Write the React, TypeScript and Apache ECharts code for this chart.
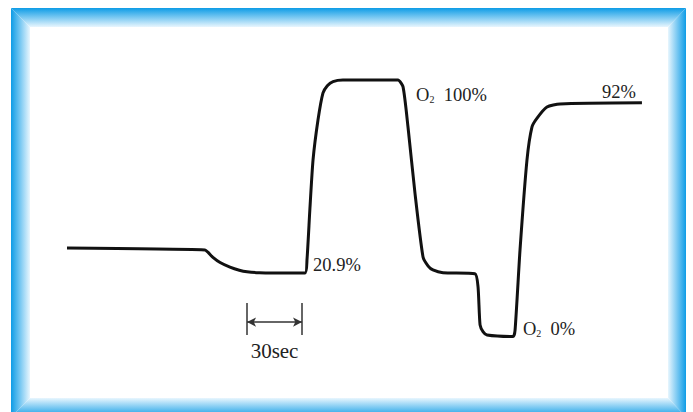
import React, { useEffect, useRef } from "react";
import * as echarts from "echarts";

// Time in seconds, sensor signal in arbitrary units
const times = [0, 75.3, 77.0, 79.6, 83.5, 88.9, 94, 98.2, 105, 112.4, 129.8, 130.9, 132.5, 134.2, 136.9, 139.6, 142, 145.1, 150.5, 180.5, 183.3, 186.0, 189.8, 194.2, 197, 199.6, 205.1, 222.5, 224.2, 225.3, 227, 229.1, 243.3, 244.4, 247.1, 250.9, 253.6, 256.4, 261.8, 268.9, 313.6];
const signal = [34.6, 33.9, 32.9, 31.0, 29.0, 27.2, 26.0, 25.4, 25.0, 24.9, 24.9, 30.0, 50.0, 68.9, 84.4, 94.9, 97.8, 99.4, 100, 100, 97.3, 81.7, 56.0, 31.1, 27.6, 26.1, 25.0, 24.6, 19.5, 4.7, 2.0, 0.8, 0.2, 2.7, 33.9, 68.9, 81.7, 85.2, 89.5, 90.7, 91.1];

const labelTexts = ["20.9%", "O{s|2}  100%", "92%", "O{s|2}  0%"];
const labelCoords: [number, number][] = [[134.2, 28.0], [190.4, 94.2], [291.8, 95.3], [248.7, 3.1]];

const scaleStart = 98.2;
const scaleSpan = 30; // seconds
const scaleLabel = "30sec";

export default function App() {
  const ref = useRef<HTMLDivElement>(null);
  useEffect(() => {
    const chart = echarts.init(ref.current!, null, { renderer: "svg" });
    const blue = "#0e9ce6";
    const light = "#e8f6fe";
    const grad = (x0: number, y0: number, x1: number, y1: number) =>
      new echarts.graphic.LinearGradient(x0, y0, x1, y1, [
        { offset: 0, color: blue },
        { offset: 1, color: light },
      ]);
    const fontFamily = "'Liberation Serif', 'Times New Roman', serif";
    const scaleEnd = scaleStart + scaleSpan;
    chart.setOption({
      animation: false,
      backgroundColor: "#ffffff",
      grid: { left: 67, top: 80, width: 586.67, height: 282.7 },
      xAxis: { type: "value", min: 0, max: 320, show: false },
      yAxis: { type: "value", min: -10, max: 100, show: false },
      graphic: [
        { type: "polygon", shape: { points: [[11, 8], [686, 8], [668, 27], [30, 27]] }, style: { fill: grad(0, 0, 0, 1) } },
        { type: "polygon", shape: { points: [[11, 8], [30, 27], [30, 398], [11, 417]] }, style: { fill: grad(0, 0, 1, 0) } },
        { type: "polygon", shape: { points: [[686, 8], [686, 417], [668, 398], [668, 27]] }, style: { fill: grad(1, 0, 0, 0) } },
        { type: "polygon", shape: { points: [[11, 417], [30, 398], [668, 398], [686, 417]] }, style: { fill: grad(0, 1, 0, 0) } },
      ],
      series: [
        {
          type: "line",
          data: times.map((t, i) => [t, signal[i]]),
          showSymbol: false,
          smooth: 0.2,
          lineStyle: { color: "#111111", width: 3 },
          clip: false,
          markPoint: {
            symbol: "circle",
            symbolSize: 0,
            silent: true,
            data: [
              ...labelTexts.map((txt, i) => ({
                coord: labelCoords[i],
                label: {
                  show: true,
                  formatter: txt,
                  position: [0, 0],
                  align: "left",
                  verticalAlign: "middle",
                  color: "#222",
                  fontFamily,
                  fontSize: 18.5,
                  rich: {
                    s: { fontSize: 10, fontFamily, color: "#222", verticalAlign: "bottom", padding: [6, 0, 0, 0] },
                  },
                },
              })),
              {
                coord: [scaleStart + scaleSpan / 2, -5.4],
                label: {
                  show: true,
                  formatter: scaleLabel,
                  position: [0, 0],
                  align: "center",
                  verticalAlign: "middle",
                  color: "#222",
                  fontFamily,
                  fontSize: 21,
                },
              },
            ],
          },
          markLine: {
            silent: true,
            label: { show: false },
            lineStyle: { color: "#333", width: 1.5, type: "solid" },
            symbol: ["arrow", "arrow"],
            symbolSize: [7, 9],
            data: [
              [{ coord: [scaleStart, 5.8] }, { coord: [scaleEnd, 5.8] }],
              [{ coord: [scaleStart, 0.8], symbol: "none" }, { coord: [scaleStart, 13.2], symbol: "none" }],
              [{ coord: [scaleEnd, 0.8], symbol: "none" }, { coord: [scaleEnd, 13.2], symbol: "none" }],
            ],
          },
        },
      ],
    });
    return () => chart.dispose();
  }, []);
  return <div ref={ref} style={{ position: "fixed", left: 0, top: 0, width: 693, height: 412 }} />;
}
